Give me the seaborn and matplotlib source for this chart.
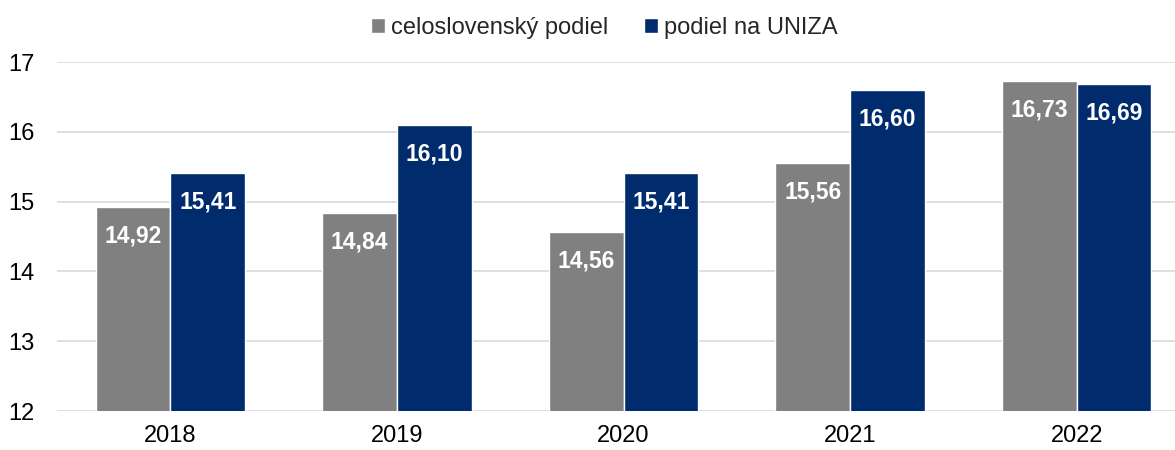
import pandas as pd
import numpy as np
import matplotlib
matplotlib.use("Agg")
import matplotlib.pyplot as plt
import seaborn as sns

# hodnoty z grafu
roky = ["2018", "2019", "2020", "2021", "2022"]
celoslovensky = [14.92, 14.84, 14.56, 15.56, 16.73]
uniza = [15.41, 16.10, 15.41, 16.60, 16.69]
serie = ["celoslovenský podiel", "podiel na UNIZA"]
farby = ["#808080", "#002C6E"]

df = pd.DataFrame({
    "rok": roky * 2,
    "hodnota": celoslovensky + uniza,
    "seria": [serie[0]] * len(roky) + [serie[1]] * len(roky),
})

sns.set_style("white")
plt.rcParams["font.family"] = ["Liberation Sans", "DejaVu Sans"]

fig = plt.figure(figsize=(11.75, 4.5), dpi=100)
ax = fig.add_axes([57 / 1175, 39 / 450, 1133 / 1175, 349 / 450])

sns.barplot(data=df, x="rok", y="hodnota", hue="seria", palette=farby,
            width=0.66, saturation=1, ax=ax, zorder=2)

ax.set_ylim(12, 17)
ax.set_yticks(range(12, 18))
ax.yaxis.grid(True, color="#d9d9d9", linewidth=1.2, zorder=0)
ax.set_axisbelow(True)
for s in ax.spines.values():
    s.set_visible(False)
ax.tick_params(axis="both", length=0, labelsize=17, colors="black")
ax.tick_params(axis="y", pad=16)
ax.tick_params(axis="x", pad=10)
ax.set_xlabel("")
ax.set_ylabel("")

for cont in ax.containers:
    for bar in cont:
        h = bar.get_height()
        ax.annotate(f"{h:.2f}".replace(".", ","),
                    (bar.get_x() + bar.get_width() / 2, h),
                    xytext=(0, -21), textcoords="offset points",
                    ha="center", va="center", color="white",
                    fontsize=16.5, fontweight="bold")

ax.legend(loc="upper center", bbox_to_anchor=(0.483, 1.19), ncol=2,
          frameon=False, fontsize=17, handlelength=0.6, handleheight=0.6,
          handletextpad=0.25, columnspacing=1.5)

fig.savefig("out.png", dpi=100)
